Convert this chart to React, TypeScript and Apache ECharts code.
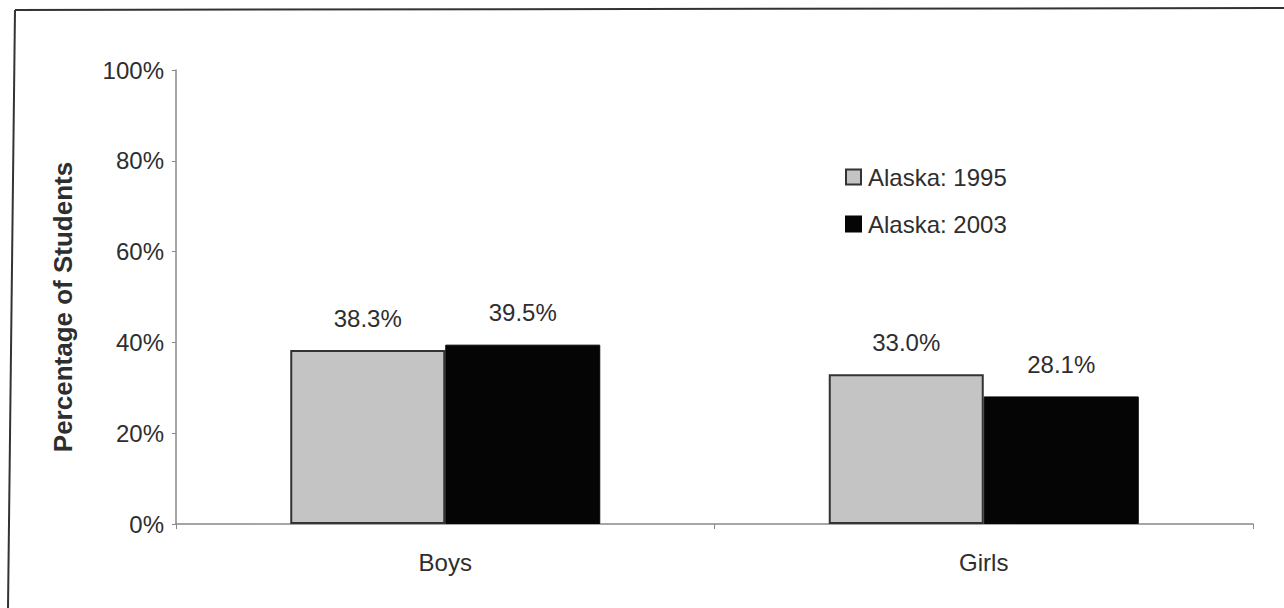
import React, { useEffect, useRef } from "react";
import * as echarts from "echarts";

const categories = ["Boys", "Girls"];
const seriesNames = ["Alaska: 1995", "Alaska: 2003"];
const values1995 = [38.3, 33.0];
const values2003 = [39.5, 28.1];
const yTicks = [0, 20, 40, 60, 80, 100];

const FONT = "'Liberation Sans', Arial, sans-serif";
const TXT = "#2e2e2e";

export default function App() {
  const ref = useRef<HTMLDivElement>(null);
  useEffect(() => {
    if (!ref.current) return;
    const chart = echarts.init(ref.current, null, { renderer: "svg" });
    const label = {
      show: true,
      position: "top",
      distance: 20,
      color: TXT,
      fontSize: 24,
      fontFamily: FONT,
      formatter: (p: any) => p.value.toFixed(1) + "%",
    };
    chart.setOption({
      animation: false,
      backgroundColor: "#ffffff",
      textStyle: { fontFamily: FONT },
      graphic: [
        { type: "line", shape: { x1: 15, y1: 10, x2: 8, y2: 608 }, style: { stroke: "#333", lineWidth: 2 } },
        { type: "line", shape: { x1: 15, y1: 10, x2: 1284, y2: 8 }, style: { stroke: "#333", lineWidth: 2 } },
      ],
      grid: { left: 176, right: 31, top: 70, bottom: 84 },
      legend: {
        orient: "vertical",
        left: 845,
        top: 165,
        padding: 0,
        itemWidth: 15,
        itemHeight: 15,
        itemGap: 23,
        icon: "rect",
        data: seriesNames,
        textStyle: { color: TXT, fontSize: 24, fontFamily: FONT, padding: [0, 0, 0, 2] },
      },
      xAxis: {
        type: "category",
        data: categories,
        axisLine: { lineStyle: { color: "#888", width: 1.5 } },
        axisTick: { show: true, length: 5, lineStyle: { color: "#888" } },
        axisLabel: { color: TXT, fontSize: 24, fontFamily: FONT, margin: 26 },
      },
      yAxis: {
        type: "value",
        min: yTicks[0],
        max: yTicks[yTicks.length - 1],
        interval: yTicks[1] - yTicks[0],
        name: "Percentage of Students",
        nameLocation: "middle",
        nameRotate: 90,
        nameGap: 100,
        nameTextStyle: { color: TXT, fontSize: 26, fontWeight: "bold", fontFamily: FONT, padding: [0, 20, 0, 0] },
        axisLine: { show: true, lineStyle: { color: "#888", width: 1.5 } },
        axisTick: { show: true, length: 4, lineStyle: { color: "#888" } },
        axisLabel: { color: TXT, fontSize: 24, fontFamily: FONT, margin: 12, formatter: "{value}%" },
        splitLine: { show: false },
      },
      series: [
        {
          name: seriesNames[0],
          type: "bar",
          data: values1995,
          barWidth: 155,
          barGap: "0%",
          itemStyle: { color: "#c4c4c4", borderColor: "#333", borderWidth: 2 },
          label,
        },
        {
          name: seriesNames[1],
          type: "bar",
          data: values2003,
          barWidth: 155,
          barGap: "0%",
          itemStyle: { color: "#050505", borderColor: "#050505", borderWidth: 1 },
          label,
        },
      ],
    });
    return () => chart.dispose();
  }, []);
  return <div ref={ref} style={{ position: "absolute", left: 0, top: 0, width: 1284, height: 608 }} />;
}
